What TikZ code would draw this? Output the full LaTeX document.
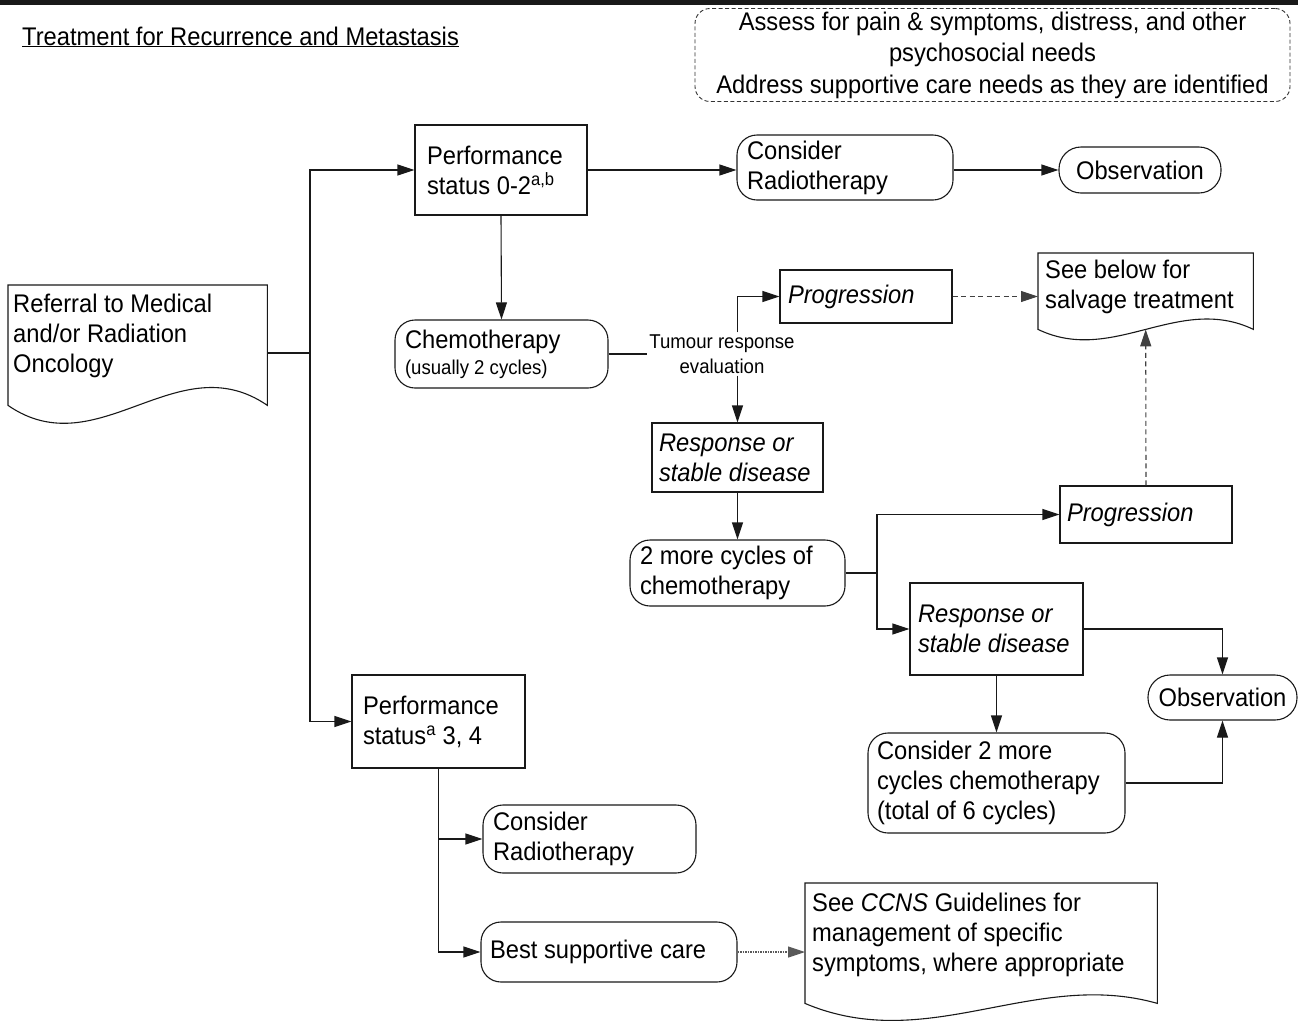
\documentclass[tikz,border=0pt]{standalone}
\usepackage{fontspec}
\setmainfont{Liberation Sans}[FakeStretch=0.93]
\usetikzlibrary{arrows.meta,calc}

\newcommand\bodyfont{\fontsize{25.5}{30}\selectfont}
\newcommand\smallfont{\fontsize{20}{25}\selectfont}

\tikzset{
  conn/.style={line width=1.1pt, draw=black!90},
  arr/.style={conn, -{Triangle[length=17pt,width=11pt]}},
  dasharr/.style={arr, draw=black!75, dash pattern=on 5pt off 3.5pt},
  dotarr/.style={arr, draw=black!65, dash pattern=on 1.5pt off 1pt},
  base/.style={draw=black!90, line width=1.1pt, inner ysep=0pt, align=flush left, font=\bodyfont},
  procbox/.style={base, rectangle},
  termbox/.style={base, rounded corners=20pt},
  pill/.style={base, rounded corners=22pt, align=flush center, inner xsep=0pt},
  docbox/.style={inner ysep=0pt, font=\bodyfont},
}

\begin{document}
\begin{tikzpicture}[x=1pt, y=-1pt]
\useasboundingbox (0,0) rectangle (1298,1021);

% header bar and title
\fill[black!90] (0,0) rectangle (1298,4.5);
\node[font=\bodyfont, anchor=base west, inner sep=0pt] (title) at (22,45)
  {\underline{Treatment for Recurrence and Metastasis}};

% supportive care reminder
\node[draw=black!80, line width=0.9pt, dash pattern=on 4pt off 2.5pt, rounded corners=15pt,
      minimum width=595, minimum height=93, inner sep=0pt, align=flush center,
      font=\fontsize{25.5}{31.5}\selectfont] (assess) at (992.5,55)
  {Assess for pain \& symptoms, distress, and other\\psychosocial needs\\Address supportive care needs as they are identified};

% referral document
\node[docbox, anchor=north west, inner xsep=5pt] (ref) at (8,285)
  {\parbox[c][120pt][t]{249pt}{\raggedright\rule{0pt}{27pt}Referral to Medical\\and/or Radiation\\Oncology}};
\draw[conn] (ref.north west) -- (ref.north east) -- (ref.south east)
  .. controls ($(ref.south east)+(-90,-62)$) and ($(ref.south west)+(90,62)$) .. (ref.south west) -- cycle;

% performance status 0-2 branch
\node[procbox, text width=148pt, inner xsep=12pt, minimum height=90] (ps02) at (501,170)
  {Performance\\status 0-2\textsuperscript{a,b}};
\node[termbox, text width=196pt, inner xsep=10pt, minimum height=65] (cr1) at (845,167.5)
  {Consider\\Radiotherapy};
\node[pill, minimum width=162, minimum height=46] (obs1) at (1140,170) {Observation};
\node[termbox, text width=193pt, inner xsep=10pt, minimum height=68] (chemo) at (501.5,354)
  {Chemotherapy\\[-4pt]{\smallfont (usually 2 cycles)}};
\node[font=\smallfont, align=flush center, inner sep=2pt] (tre) at (722,354)
  {Tumour response\\evaluation};
\node[procbox, text width=156pt, inner xsep=8pt, minimum height=53, font=\bodyfont\itshape] (prog1) at (866,296.5)
  {Progression};
\node[procbox, text width=157pt, inner xsep=7pt, minimum height=69, font=\bodyfont\itshape] (resp1) at (737.5,457.5)
  {Response or\\stable disease};
\node[termbox, text width=195pt, inner xsep=10pt, minimum height=66] (more2) at (737.5,573)
  {2 more cycles of\\chemotherapy};
\node[procbox, text width=158pt, inner xsep=7pt, minimum height=57, font=\bodyfont\itshape] (prog2) at (1146,514.5)
  {Progression};
\node[procbox, text width=157pt, inner xsep=8pt, minimum height=92, font=\bodyfont\itshape] (resp2) at (996.5,629)
  {Response or\\stable disease};
\node[pill, minimum width=149, minimum height=45] (obs2) at (1222.5,697.5) {Observation};
\node[termbox, text width=239pt, inner xsep=9pt, minimum height=100] (cons2) at (996.5,783)
  {Consider 2 more\\cycles chemotherapy\\(total of 6 cycles)};

% salvage document
\node[docbox, anchor=north west, inner xsep=7pt] (sbd) at (1038,253)
  {\parbox[c][76pt][t]{201pt}{\raggedright\rule{0pt}{25pt}See below for\\salvage treatment}};
\draw[conn] (sbd.north west) -- (sbd.north east) -- (sbd.south east)
  .. controls ($(sbd.south east)+(-75,-36)$) and ($(sbd.south west)+(75,36)$) .. (sbd.south west) -- cycle;

% performance status 3-4 branch
\node[procbox, text width=151pt, inner xsep=11pt, minimum height=93] (ps34) at (438.5,721.5)
  {Performance\\status\textsuperscript{a} 3, 4};
\node[termbox, text width=193pt, inner xsep=10pt, minimum height=68] (cr2) at (589.5,839)
  {Consider\\Radiotherapy};
\node[termbox, text width=238pt, inner xsep=9pt, minimum height=60] (bsc) at (609,952)
  {Best supportive care};
\node[docbox, anchor=north west, inner xsep=7pt] (ccns) at (805,883)
  {\parbox[c][120pt][t]{338pt}{\raggedright\rule{0pt}{28pt}See \textit{CCNS} Guidelines for\\management of specific\\symptoms, where appropriate}};
\draw[conn] (ccns.north west) -- (ccns.north east) -- (ccns.south east)
  .. controls ($(ccns.south east)+(-123,-35)$) and ($(ccns.south west)+(123,52)$) .. (ccns.south west) -- cycle;

% connectors
\coordinate (trunk) at (310,353);
\draw[conn] (ref.east |- trunk) -- (trunk);
\draw[arr] (trunk) |- (ps02.west);
\draw[arr] (trunk) |- (ps34.west);

\draw[arr] (ps02.east) -- (ps02.east -| cr1.west);
\draw[arr] (obs1.west -| cr1.east) -- (obs1.west);
\draw[arr] (ps02.south) -- (chemo.north);
\draw[conn] (chemo.east) -- (chemo.east -| tre.west);
\draw[arr] (tre.north -| resp1.north) |- (prog1.west);
\draw[arr] (tre.south -| resp1.north) -- (resp1.north);
\draw[dasharr] (prog1.east) -- (prog1.east -| sbd.west);
\draw[arr] (resp1.south) -- (more2.north);

\coordinate (split) at (877,573);
\draw[conn] (more2.east) -- (split);
\draw[arr] (split) |- (prog2.west);
\draw[arr] (split) |- (resp2.west);
\draw[dasharr] (prog2.north) -- (sbd.south);
\draw[arr] (resp2.east) -| (obs2.north);
\draw[arr] (resp2.south) -- (cons2.north);
\draw[arr] (cons2.east) -| (obs2.south);

\draw[arr] (ps34.south) |- (bsc.west);
\draw[arr] (ps34.south |- cr2.west) -- (cr2.west);
\draw[dotarr] (bsc.east) -- (bsc.east -| ccns.west);
\end{tikzpicture}
\end{document}
